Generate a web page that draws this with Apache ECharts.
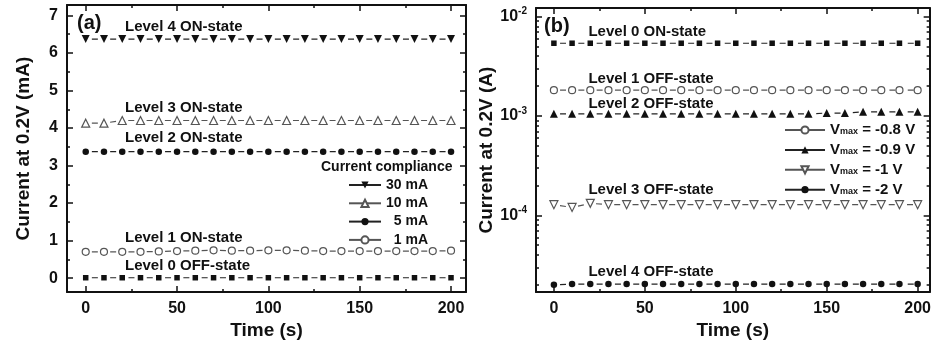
<!DOCTYPE html>
<html><head><meta charset="utf-8">
<script src="https://cdn.jsdelivr.net/npm/echarts@6/dist/echarts.min.js"></script>
<style>html,body{margin:0;padding:0;background:#fff}#c{width:934px;height:345px}</style>
</head><body><div id="c"></div>
<script>
// ---------- data ----------
const timeS = [0,10,20,30,40,50,60,70,80,90,100,110,120,130,140,150,160,170,180,190,200];
// panel (a): current at 0.2 V in mA, by current compliance
const a30mA  = [6.37,6.37,6.37,6.37,6.37,6.37,6.37,6.37,6.37,6.37,6.37,6.37,6.37,6.37,6.37,6.37,6.37,6.37,6.37,6.37,6.37];
const a10mA  = [4.13,4.13,4.20,4.20,4.20,4.20,4.20,4.20,4.20,4.20,4.20,4.20,4.20,4.20,4.20,4.20,4.20,4.20,4.20,4.20,4.20];
const a5mA   = [3.37,3.37,3.37,3.37,3.37,3.37,3.37,3.37,3.37,3.37,3.37,3.37,3.37,3.37,3.37,3.37,3.37,3.37,3.37,3.37,3.37];
const a1mA   = [0.70,0.70,0.70,0.70,0.71,0.72,0.73,0.74,0.73,0.73,0.74,0.74,0.73,0.72,0.72,0.72,0.72,0.72,0.72,0.72,0.73];
const aOff   = [0.01,0.01,0.01,0.01,0.01,0.01,0.01,0.01,0.01,0.01,0.01,0.01,0.01,0.01,0.01,0.01,0.01,0.01,0.01,0.01,0.01];
// panel (b): current at 0.2 V in A, by Vmax
const bOn    = [5.4e-3,5.4e-3,5.4e-3,5.4e-3,5.4e-3,5.4e-3,5.4e-3,5.4e-3,5.4e-3,5.4e-3,5.4e-3,5.4e-3,5.4e-3,5.4e-3,5.4e-3,5.4e-3,5.4e-3,5.4e-3,5.4e-3,5.4e-3,5.4e-3];
const bV08   = [1.82e-3,1.82e-3,1.82e-3,1.82e-3,1.82e-3,1.82e-3,1.82e-3,1.82e-3,1.82e-3,1.82e-3,1.82e-3,1.82e-3,1.82e-3,1.82e-3,1.82e-3,1.82e-3,1.82e-3,1.82e-3,1.82e-3,1.82e-3,1.82e-3];
const bV09   = [1.05e-3,1.05e-3,1.05e-3,1.05e-3,1.05e-3,1.05e-3,1.05e-3,1.05e-3,1.05e-3,1.05e-3,1.05e-3,1.05e-3,1.05e-3,1.05e-3,1.05e-3,1.07e-3,1.07e-3,1.1e-3,1.1e-3,1.1e-3,1.1e-3];
const bV1    = [1.28e-4,1.2e-4,1.32e-4,1.28e-4,1.28e-4,1.28e-4,1.28e-4,1.28e-4,1.28e-4,1.28e-4,1.28e-4,1.28e-4,1.28e-4,1.28e-4,1.28e-4,1.28e-4,1.28e-4,1.28e-4,1.28e-4,1.28e-4,1.28e-4];
const bV2    = [2.0e-5,2.03e-5,2.03e-5,2.03e-5,2.03e-5,2.03e-5,2.03e-5,2.03e-5,2.03e-5,2.03e-5,2.03e-5,2.03e-5,2.03e-5,2.03e-5,2.03e-5,2.03e-5,2.03e-5,2.03e-5,2.03e-5,2.03e-5,2.03e-5];
// tick labels
const xTicks = [0,50,100,150,200];
const xMinor = [25,75,125,175];
const aYTicks = [0,1,2,3,4,5,6,7];
const aYMinor = [0.5,1.5,2.5,3.5,4.5,5.5,6.5];
const bYDecades = [-4,-3,-2];
const aLegendNames = ['30 mA','10 mA','5 mA','1 mA'];
const bLegendNames = ['Vmax = -0.8 V','Vmax = -0.9 V','Vmax = -1 V','Vmax = -2 V'];

// ---------- build ----------
const FONT = '"Liberation Sans", Arial, sans-serif';
const INK = '#111';
const bMinor = [];
[-5,-4,-3].forEach(n => { for (let k=2;k<=9;k++) bMinor.push(Math.log10(k*Math.pow(10,n))); });

const A = {xmin:-10.24, xmax:208.2, ymin:-0.373, ymax:7.279};
const B = {xmin:-9.84, xmax:206.6, ymin:-4.773, ymax:-1.913};

function xAx(grid, range, pos, ticks, major, withLabel, name) {
  return {
    type:'value', gridIndex:grid, position:pos, min:range.xmin, max:range.xmax,
    axisLine:{show:major, onZero:false, lineStyle:{color:INK,width:2}},
    axisTick:{show:true, inside:true, length:major?6:3, customValues:ticks, lineStyle:{color:INK,width:1.5}},
    axisLabel:withLabel?{show:true, customValues:ticks, margin:8, color:INK, fontSize:16, fontWeight:'bold', fontFamily:FONT}:{show:false},
    splitLine:{show:false},
    name:name||'', nameLocation:'middle', nameGap:22,
    nameTextStyle:{color:INK, fontSize:19, fontWeight:'bold', fontFamily:FONT}
  };
}
function yAx(grid, range, pos, ticks, major, label, name) {
  return {
    type:'value', gridIndex:grid, position:pos, min:range.ymin, max:range.ymax,
    axisLine:{show:major, onZero:false, lineStyle:{color:INK,width:2}},
    axisTick:{show:true, inside:true, length:major?6:3, customValues:ticks, lineStyle:{color:INK,width:1.5}},
    axisLabel:label?Object.assign({show:true, customValues:ticks, margin:9, color:INK, fontSize:16, fontWeight:'bold', fontFamily:FONT}, label):{show:false},
    splitLine:{show:false},
    name:name||'', nameLocation:'middle', nameGap:34,
    nameTextStyle:{color:INK, fontSize:19, fontWeight:'bold', fontFamily:FONT}
  };
}

const xAxis = [
  xAx(0,A,'bottom',xTicks,true,true,'Time (s)'),
  xAx(0,A,'bottom',xMinor,false,false),
  xAx(0,A,'top',xTicks,true,false),
  xAx(0,A,'top',xMinor,false,false),
  xAx(1,B,'bottom',xTicks,true,true,'Time (s)'),
  xAx(1,B,'bottom',xMinor,false,false),
  xAx(1,B,'top',xTicks,true,false),
  xAx(1,B,'top',xMinor,false,false)
];
const bLabel = {
  formatter: v => '{b|10}{s|' + Math.round(v) + '}',
  rich:{ b:{fontSize:16, fontWeight:'bold', fontFamily:FONT, color:INK},
         s:{fontSize:10, fontWeight:'bold', fontFamily:FONT, color:INK, padding:[0,0,10,0]} }
};
const yAxis = [
  yAx(0,A,'left',aYTicks,true,{},'Current at 0.2V (mA)'),
  yAx(0,A,'left',aYMinor,false,null),
  yAx(0,A,'right',aYTicks,true,null),
  yAx(0,A,'right',aYMinor,false,null),
  yAx(1,B,'left',bYDecades,true,bLabel,'Current at 0.2V (A)'),
  yAx(1,B,'left',bMinor,false,null),
  yAx(1,B,'right',bYDecades,true,null),
  yAx(1,B,'right',bMinor,false,null)
];

function ser(name, vals, panel, sym, opts) {
  const isB = panel === 'b';
  const open = opts.open;
  const data = vals.map((v,i) => [timeS[i], isB ? Math.log10(v) : v]);
  const lineColor = open ? '#555' : '#222';
  const s = {
    name, type:'line', data,
    xAxisIndex: isB?4:0, yAxisIndex: isB?4:0,
    symbol: sym, symbolSize: opts.size, symbolRotate: opts.rotate||0, showAllSymbol:true,
    itemStyle: open ? {color:'#fff', borderColor:'#555', borderWidth:1.2} : {color:INK, borderWidth:0},
    lineStyle: {color:lineColor, width:1.2, type:[6,12.3], dashOffset:12.15},
    emphasis:{disabled:true}, z: 3
  };
  if (opts.label) {
    s.markPoint = {
      symbol:'circle', symbolSize:1, silent:true, itemStyle:{color:'transparent'},
      label:{show:true, position:'inside', align:'left', verticalAlign:'middle', offset:[0,opts.label[2]],
             color:INK, fontSize:15, fontWeight:'bold', fontFamily:FONT, formatter: opts.label[0]},
      data:[{coord:[opts.label[1], data[2][1]]}]
    };
  }
  return s;
}

const series = [
  ser('30 mA', a30mA, 'a', 'triangle', {size:8, rotate:180, label:['Level 4 ON-state',21.5,-12]}),
  ser('10 mA', a10mA, 'a', 'triangle', {size:8, open:true, label:['Level 3 ON-state',21.5,-13]}),
  ser('5 mA',  a5mA,  'a', 'circle',   {size:6.5, label:['Level 2 ON-state',21.5,-14]}),
  ser('1 mA',  a1mA,  'a', 'circle',   {size:7, open:true, label:['Level 1 ON-state',21.5,-14]}),
  ser('a0',    aOff,  'a', 'rect',     {size:5.5, label:['Level 0 OFF-state',21.5,-12]}),
  ser('b0',    bOn,   'b', 'rect',     {size:5.5, label:['Level 0 ON-state',19,-11]}),
  ser('Vmax = -0.8 V', bV08, 'b', 'circle',   {size:7, open:true, label:['Level 1 OFF-state',19,-11]}),
  ser('Vmax = -0.9 V', bV09, 'b', 'triangle', {size:8, label:['Level 2 OFF-state',19,-10.5]}),
  ser('Vmax = -1 V',   bV1,  'b', 'triangle', {size:8, rotate:180, open:true, label:['Level 3 OFF-state',19,-13]}),
  ser('Vmax = -2 V',   bV2,  'b', 'circle',   {size:6.5, label:['Level 4 OFF-state',19,-12]})
];

const legendText = {color:INK, fontSize:14, fontWeight:'bold', fontFamily:FONT};
const option = {
  backgroundColor:'#fff',
  animation:false,
  grid:[
    {left:67, top:5, width:399, height:293},
    {left:536, top:8, width:396, height:286}
  ],
  xAxis, yAxis, series,
  legend:[
    {data:aLegendNames, orient:'vertical', left:348, top:178, padding:0,
     itemWidth:32, itemHeight:9, itemGap:4.3, selectedMode:false,
     lineStyle:{type:'solid'}, textStyle:legendText,
     formatter: n => n.length < 5 ? '  ' + n : n},
    {data:bLegendNames, orient:'vertical', left:784, top:122.5, padding:0,
     itemWidth:40, itemHeight:9, itemGap:4.9, selectedMode:false,
     lineStyle:{type:'solid'}, textStyle:legendText,
     formatter: n => '{v|V}{m|max}{t|' + n.slice(4) + '}',
     }
  ],
  graphic:[
    {type:'text', left:77, top:13, style:{text:'(a)', fill:INK, font:'bold 20px ' + FONT}},
    {type:'text', left:544, top:16, style:{text:'(b)', fill:INK, font:'bold 20px ' + FONT}},
    {type:'text', left:321, top:160, style:{text:'Current compliance', fill:INK, font:'bold 14px ' + FONT}}
  ]
};
option.legend[1].textStyle = Object.assign({}, legendText, {rich:{
  v:{fontSize:15, fontWeight:'bold', fontFamily:FONT, color:INK},
  m:{fontSize:9, fontWeight:'bold', fontFamily:FONT, color:INK, padding:[4,0,0,0]},
  t:{fontSize:15, fontWeight:'bold', fontFamily:FONT, color:INK}
}});
const chart = echarts.init(document.getElementById('c'), null, {renderer:'canvas'});
chart.setOption(option);
</script></body></html>
